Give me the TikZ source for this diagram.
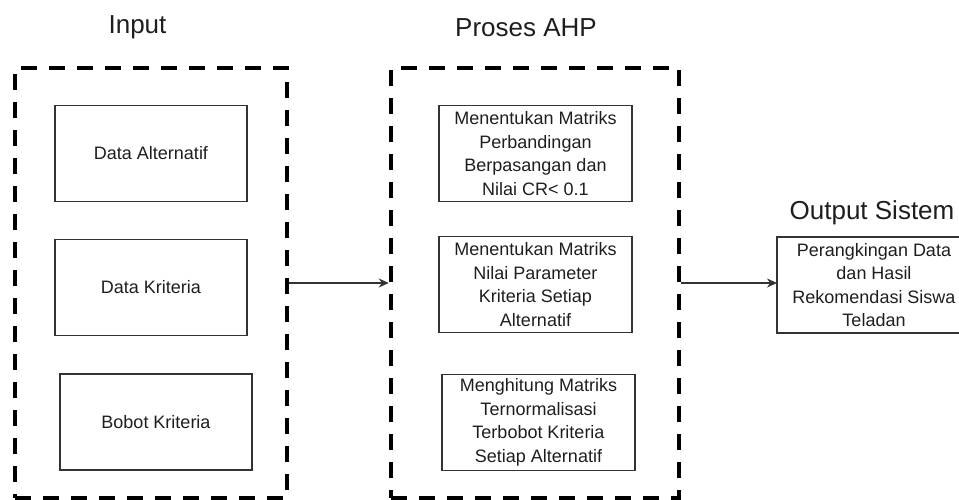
\documentclass[tikz,border=0pt]{standalone}
\usepackage{fontspec}
\setmainfont{Liberation Sans}
\usetikzlibrary{arrows.meta}
\definecolor{txt}{HTML}{1E1E1E}
\definecolor{edge}{HTML}{333333}
\begin{document}
\begin{tikzpicture}[x=1pt,y=-1pt,
  every node/.style={inner sep=0pt,outer sep=0pt,align=center,text=txt,font=\fontsize{18}{23.6}\selectfont},
  frame/.style={draw=black,line width=4.5pt,dash pattern=on 16pt off 12pt,outer sep=2.25pt},
  itembox/.style={draw=edge,line width=1.4pt,minimum width=192pt,minimum height=96pt},
  title/.style={anchor=base,font=\fontsize{26}{30}\selectfont},
  flow/.style={-{Stealth[length=10pt,width=9pt]},line width=1.2pt,draw=edge}]
\useasboundingbox (0,0) rectangle (959,500);
\node[title] (tinput) at (137.5,34) {Input};
\node[title] (tproses) at (526,37) {Proses AHP};
\node[title] (toutput) at (872,219) {Output Sistem};
\node[frame,minimum width=272pt,minimum height=430pt] (finput) at (151,283) {};
\node[frame,minimum width=288pt,minimum height=430pt] (fproses) at (535,283) {};
\foreach \i/\x/\y/\t in {1/151/153.5/{Data Alternatif}, 2/151/287.5/{Data Kriteria}, 3/156/422/{Bobot Kriteria}}
  \node[itembox] (in\i) at (\x,\y) {\t};
\foreach \i/\x/\y/\t in {1/535.5/153.5/{Menentukan Matriks\\Perbandingan\\Berpasangan dan\\Nilai CR< 0.1},
    2/535.5/284.5/{Menentukan Matriks\\Nilai Parameter\\Kriteria Setiap\\Alternatif},
    3/538.5/422.5/{Menghitung Matriks\\Ternormalisasi\\Terbobot Kriteria\\Setiap Alternatif}}
  \node[itembox,minimum width=193pt] (ahp\i) at (\x,\y) {\t};
\node[itembox,minimum width=194pt] (hasil) at (874,285) {Perangkingan Data\\dan Hasil\\Rekomendasi Siswa\\Teladan};
\draw[flow] (finput.east) -- (fproses.west);
\draw[flow] (fproses.east) -- (fproses.east -| hasil.west);
\end{tikzpicture}
\end{document}
